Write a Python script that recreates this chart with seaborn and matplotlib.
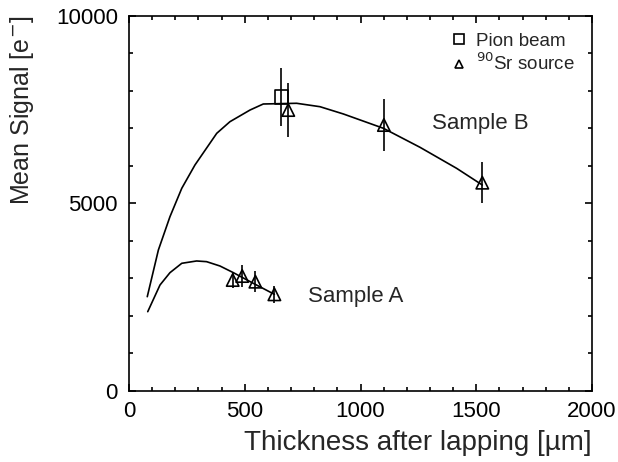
import numpy as np
import pandas as pd
import matplotlib
matplotlib.use("Agg")
import matplotlib.pyplot as plt
import seaborn as sns
from matplotlib.lines import Line2D

# fitted curves
curve_b_x = [79, 127, 177, 228, 285, 379, 436, 523, 580, 724, 825, 926, 1099, 1257, 1415, 1526]
curve_b_y = [2515, 3760, 4648, 5405, 6027, 6871, 7181, 7493, 7653, 7672, 7581, 7387, 7005, 6498, 5938, 5493]
curve_a_x = [81, 134, 177, 228, 292, 335, 393, 451, 537, 628]
curve_a_y = [2115, 2827, 3155, 3405, 3467, 3449, 3333, 3155, 2871, 2578]

# measured points
pion_x = [657]
pion_y = [7840]
pion_err = [780]
sr_x = [448, 489, 546, 628, 688, 1101, 1526]
sr_y = [2960, 3067, 2915, 2578, 7493, 7093, 5555]
sr_err = [213, 300, 275, 220, 733, 697, 540]

sns.set_style("ticks")
plt.rcParams['font.family'] = ['Liberation Sans', 'DejaVu Sans']

fig = plt.figure(figsize=(6.18, 4.62), dpi=100)
ax = fig.add_axes([0.2087, 0.1537, 0.7493, 0.8117])

lw = 1.2
sns.lineplot(x=curve_b_x, y=curve_b_y, sort=False, color='black', lw=lw, ax=ax)
sns.lineplot(x=curve_a_x, y=curve_a_y, sort=False, color='black', lw=lw, ax=ax)

ax.errorbar(pion_x, pion_y, yerr=pion_err, fmt='none', ecolor='black', elinewidth=lw, capsize=0)
ax.errorbar(sr_x, sr_y, yerr=sr_err, fmt='none', ecolor='black', elinewidth=lw, capsize=0)

sns.scatterplot(x=pion_x, y=pion_y, marker='s', s=90, facecolor='none',
                edgecolor='black', linewidth=lw, ax=ax, zorder=5)
sns.scatterplot(x=sr_x, y=sr_y, marker='^', s=80, facecolor='none',
                edgecolor='black', linewidth=lw, ax=ax, zorder=5)

# legend
handles = [Line2D([], [], ls='none', marker='s', ms=6.5, mfc='none', mec='black', mew=lw),
           Line2D([], [], ls='none', marker='^', ms=5.5, mfc='none', mec='black', mew=lw)]
ax.legend(handles, ['Pion beam', '$^{90}$Sr source'], loc='upper right', frameon=False,
          fontsize=13.5, handlelength=0.8, handletextpad=0.5, labelspacing=0.15,
          borderaxespad=0.5)

ax.text(1309, 7120, 'Sample B', fontsize=16, va='center', ha='left')
ax.text(773, 2533, 'Sample A', fontsize=16, va='center', ha='left')

ax.set_xlim(0, 2000)
ax.set_ylim(0, 10000)
ax.set_xticks([0, 500, 1000, 1500, 2000])
ax.set_yticks([0, 5000, 10000])
ax.set_xticks(np.arange(0, 2001, 100), minor=True)
ax.set_yticks(np.arange(0, 10001, 1000), minor=True)
ax.tick_params(which='both', direction='in', top=True, right=True, width=1.2, colors='black')
ax.tick_params(which='major', length=5, labelsize=16)
ax.tick_params(axis='x', which='major', pad=7)
ax.tick_params(axis='y', which='major', pad=8)
ax.tick_params(which='minor', length=3)
for sp in ax.spines.values():
    sp.set_linewidth(1.2)
    sp.set_color('black')

ax.set_xlabel('Thickness after lapping [µm]', fontsize=20, loc='right', labelpad=6)
ax.set_ylabel('Mean Signal [e$^{-}$]', fontsize=18, loc='top', labelpad=14)

fig.savefig('out.png', dpi=100)
